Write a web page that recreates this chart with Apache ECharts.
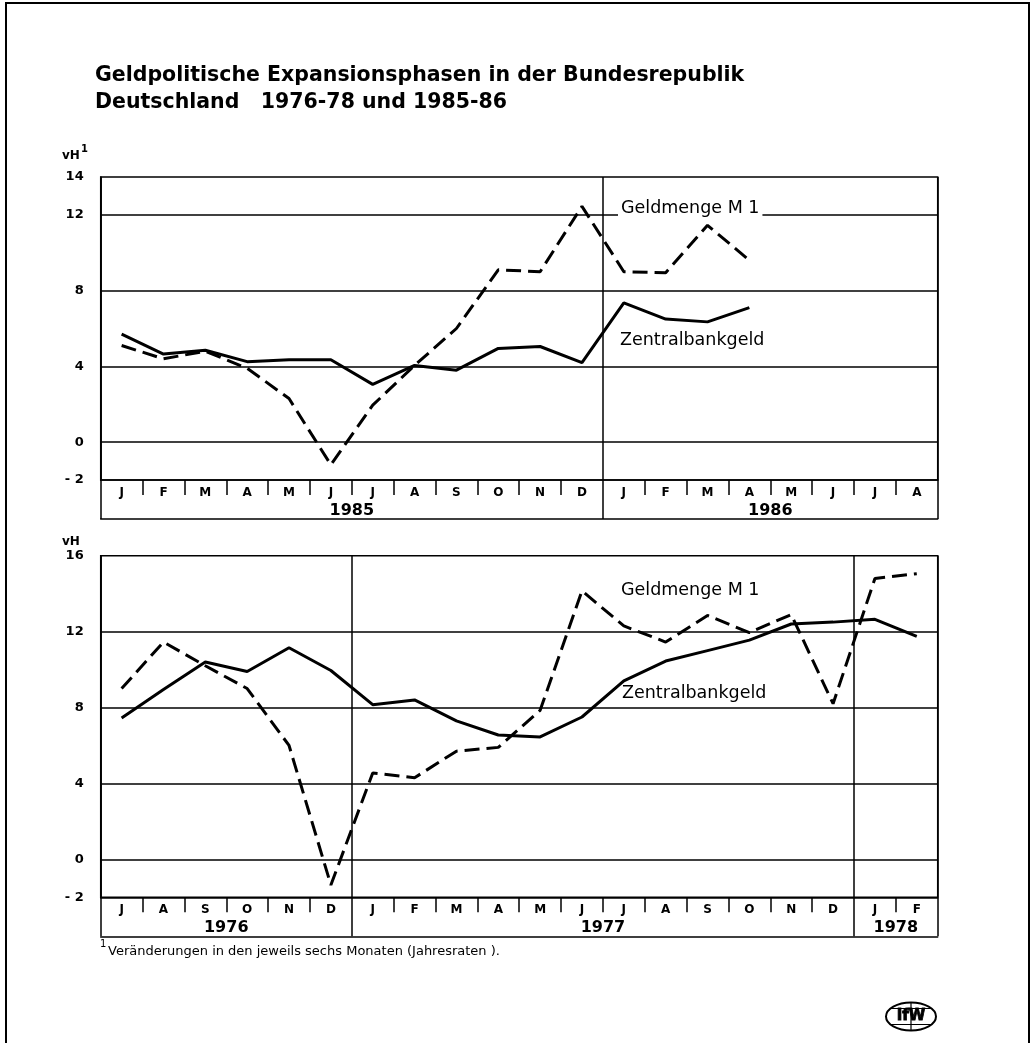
<!DOCTYPE html>
<html><head><meta charset="utf-8">
<script src="https://cdn.jsdelivr.net/npm/echarts@6/dist/echarts.min.js"></script>
<style>html,body{margin:0;padding:0;background:#fff}#c{width:1032px;height:1043px}</style>
</head><body><div id="c"></div>
<script>
// ---- Top panel: 1985-86 ----
const monthsTop = ['J','F','M','A','M','J','J','A','S','O','N','D','J','F','M','A','M','J','J','A'];
const yearsTop = ['1985','1986'];
const yearMonthsTop = [12, 8];
const zbgTop = [5.7,4.65,4.85,4.25,4.35,4.35,3.05,4.05,3.8,4.95,5.05,4.2,7.35,6.5,6.35,7.1,null,null,null,null];
const m1Top  = [5.1,4.4,4.8,3.9,2.3,-1.2,1.95,4.05,6.0,9.1,9.0,12.45,9.0,8.95,11.45,9.6,null,null,null,null];
const yLabelsTop = [-2,0,4,8,12,14];
const gridValsTop = [0,4,8,12];

// ---- Bottom panel: 1976-78 ----
const monthsBot = ['J','A','S','O','N','D','J','F','M','A','M','J','J','A','S','O','N','D','J','F'];
const yearsBot = ['1976','1977','1978'];
const yearMonthsBot = [6, 12, 2];
const zbgBot = [7.45,8.95,10.4,9.9,11.15,9.95,8.15,8.4,7.3,6.55,6.45,7.5,9.4,10.45,11.0,11.55,12.4,12.5,12.65,11.75];
const m1Bot  = [9.0,11.45,10.2,9.0,6.0,-1.35,4.55,4.3,5.7,5.9,7.85,14.15,12.3,11.45,12.85,11.95,12.9,8.2,14.8,15.05];
const yLabelsBot = [-2,0,4,8,12,16];
const gridValsBot = [0,4,8,12];

const FONT = 'DejaVu Sans';
function cum(arr){const r=[0];arr.forEach(v=>r.push(r[r.length-1]+v));return r;}
function centers(arr){const c=cum(arr);return arr.map((v,i)=>c[i]+v/2);}

const chart = echarts.init(document.getElementById('c'), null, {renderer:'canvas'});

function panel(gi, months, years, ym, yMin, yMax, yLabels, gridVals, zbg, m1){
  const bounds = cum(ym);
  const splitIdx = bounds.slice(0, -1);
  const cents = centers(ym);
  const total = months.length;
  const xCat = {
    type:'category', gridIndex:gi, data:months, boundaryGap:true, position:'bottom',
    axisLine:{show:true,onZero:false,lineStyle:{color:'#000',width:1.5}},
    axisTick:{show:true,interval:0,length:15,lineStyle:{color:'#000',width:1.5}},
    axisLabel:{interval:0,margin:7,fontSize:12,fontWeight:'bold',color:'#000',fontFamily:FONT},
    splitLine:{show:true,interval:(i)=>splitIdx.indexOf(i)>=0,lineStyle:{color:'#000',width:1.5}}
  };
  const xYear = {
    type:'value', gridIndex:gi, min:0, max:total, position:'bottom', offset:39,
    axisLine:{show:true,onZero:false,lineStyle:{color:'#000',width:1.5}},
    axisTick:{show:true,inside:true,length:39,customValues:bounds,lineStyle:{color:'#000',width:1.5}},
    axisLabel:{show:true,inside:true,margin:0,customValues:cents,
      formatter:(v)=>{const k=cents.indexOf(v);return k>=0?years[k]:'';},
      fontSize:16,fontWeight:'bold',color:'#000',fontFamily:FONT},
    splitLine:{show:false}
  };
  const yAx = {
    type:'value', gridIndex:gi, min:yMin, max:yMax, interval:2,
    axisLine:{show:true,onZero:false,lineStyle:{color:'#000',width:1.5}},
    axisTick:{show:false},
    axisLabel:{margin:17,fontSize:13,fontWeight:'bold',color:'#000',fontFamily:FONT,
      formatter:(v)=>yLabels.indexOf(v)>=0?(v<0?'- '+Math.abs(v):String(v)):''},
    splitLine:{show:false}
  };
  const series = [
    {type:'line', xAxisIndex:gi*2, yAxisIndex:gi, data:zbg, symbol:'none', connectNulls:false,
     lineStyle:{color:'#000',width:3}, z:3, animation:false,
     markLine:{silent:true,symbol:'none',label:{show:false},animation:false,
       lineStyle:{color:'#000',width:1.5,type:'solid'},
       data:gridVals.map(v=>({yAxis:v}))}},
    {type:'line', xAxisIndex:gi*2, yAxisIndex:gi, data:m1, symbol:'none',
     lineStyle:{color:'#000',width:3,type:[15,7]}, z:3, animation:false}
  ];
  return {xAxes:[xCat,xYear], yAxis:yAx, series};
}

const pTop = panel(0, monthsTop, yearsTop, yearMonthsTop, -2, 14, yLabelsTop, gridValsTop, zbgTop, m1Top);
const pBot = panel(1, monthsBot, yearsBot, yearMonthsBot, -2, 16, yLabelsBot, gridValsBot, zbgBot, m1Bot);

chart.setOption({
  backgroundColor:'#fff',
  animation:false,
  grid:[
    {left:100.7,right:94.3,top:177,height:303,show:true,borderColor:'#000',borderWidth:1.5,backgroundColor:'transparent',containLabel:false},
    {left:100.7,right:94.3,top:555.7,height:341.6,show:true,borderColor:'#000',borderWidth:1.5,backgroundColor:'transparent',containLabel:false}
  ],
  xAxis:[...pTop.xAxes, ...pBot.xAxes],
  yAxis:[pTop.yAxis, pBot.yAxis],
  series:[...pTop.series, ...pBot.series],
  graphic:[
    {type:'rect',shape:{x:6,y:3,width:1023,height:1070},style:{fill:'none',stroke:'#000',lineWidth:2},z:1,silent:true},
    {type:'text',left:95,top:62,z:50,style:{text:'Geldpolitische Expansionsphasen in der Bundesrepublik\nDeutschland   1976-78 und 1985-86',
      font:'bold 20.5px "'+FONT+'"',lineHeight:27,fill:'#000'}},
    {type:'text',left:62,top:150,z:50,style:{text:'vH',font:'bold 12px "'+FONT+'"',fill:'#000'}},
    {type:'text',left:81,top:144,z:50,style:{text:'1',font:'bold 10px "'+FONT+'"',fill:'#000'}},
    {type:'text',left:62,top:536,z:50,style:{text:'vH',font:'bold 12px "'+FONT+'"',fill:'#000'}},
    {type:'text',left:618,top:199,z:50,style:{text:'Geldmenge M 1',font:'17.5px "'+FONT+'"',fill:'#000',backgroundColor:'#fff',padding:[0,3,0,3]}},
    {type:'text',left:620,top:331,z:50,style:{text:'Zentralbankgeld',font:'17.5px "'+FONT+'"',fill:'#000'}},
    {type:'text',left:621,top:581,z:50,style:{text:'Geldmenge M 1',font:'17.5px "'+FONT+'"',fill:'#000'}},
    {type:'text',left:622,top:684,z:50,style:{text:'Zentralbankgeld',font:'17.5px "'+FONT+'"',fill:'#000'}},
    {type:'text',left:100,top:939,z:50,style:{text:'1',font:'10px "'+FONT+'"',fill:'#000'}},
    {type:'text',left:108,top:945,z:50,style:{text:'Veränderungen in den jeweils sechs Monaten (Jahresraten ).',font:'13px "'+FONT+'"',fill:'#000'}},
    {type:'group',left:885,top:1000,z:50,children:[
      {type:'ellipse',shape:{cx:26,cy:15,rx:25,ry:14},style:{fill:'#fff',stroke:'#000',lineWidth:2}},
      {type:'line',shape:{x1:26,y1:1,x2:26,y2:29},style:{stroke:'#000',lineWidth:1.2}},
      {type:'line',shape:{x1:6,y1:7,x2:46,y2:7},style:{stroke:'#000',lineWidth:1.2}},
      {type:'line',shape:{x1:6,y1:23,x2:46,y2:23},style:{stroke:'#000',lineWidth:1.2}},
      {type:'text',x:26,y:15,style:{text:'IfW',font:'bold 15px "'+FONT+'"',fill:'#000',align:'center',verticalAlign:'middle',stroke:'#000',lineWidth:0.8}}
    ]}
  ]
});
</script></body></html>
